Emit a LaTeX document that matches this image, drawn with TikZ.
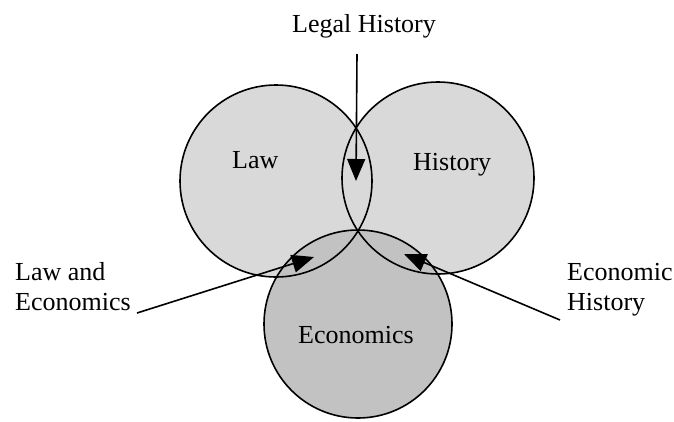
\documentclass[tikz,border=0pt]{standalone}
\usepackage{fontspec}
\setmainfont{Liberation Serif}
\usetikzlibrary{arrows.meta}
\tikzset{
  field/.style={draw=black,line width=1.6pt},
  lbl/.style={inner sep=0pt,anchor=base west,align=left,font=\fontsize{26}{30}\selectfont},
  pointer/.style={line width=1.6pt,-{Triangle[length=22pt,width=18pt]}}
}
\begin{document}
\begin{tikzpicture}[x=1pt,y=-1pt]
\useasboundingbox (0,0) rectangle (674,421);
% the three fields
\fill[gray!30] (276,181) circle (96);
\fill[gray!30] (438,178) circle (96);
\fill[gray!48] (358,324) circle (94);
\draw[field] (276,181) circle (96);
\draw[field] (438,178) circle (96);
\draw[field] (358,324) circle (94);
% names
\node[lbl] (law) at (232,168) {Law};
\node[lbl] (hist) at (413,170) {History};
\node[lbl] (econ) at (298,343) {Economics};
\node[lbl] (legal) at (292,32) {Legal History};
\node[lbl] (lawecon) at (15,310) {Law and\\Economics};
\node[lbl] (econhist) at (567,310) {Economic\\History};
% arrows into the overlaps
\coordinate (legalfrom) at (357,54);
\coordinate (legalto) at (356,181);
\coordinate (lefrom) at (137,313);
\coordinate (leto) at (314,257);
\coordinate (ehfrom) at (560,320);
\coordinate (ehto) at (404,254);
\draw[pointer] (legalfrom) -- (legalto);
\draw[pointer] (lefrom) -- (leto);
\draw[pointer] (ehfrom) -- (ehto);
\end{tikzpicture}
\end{document}
